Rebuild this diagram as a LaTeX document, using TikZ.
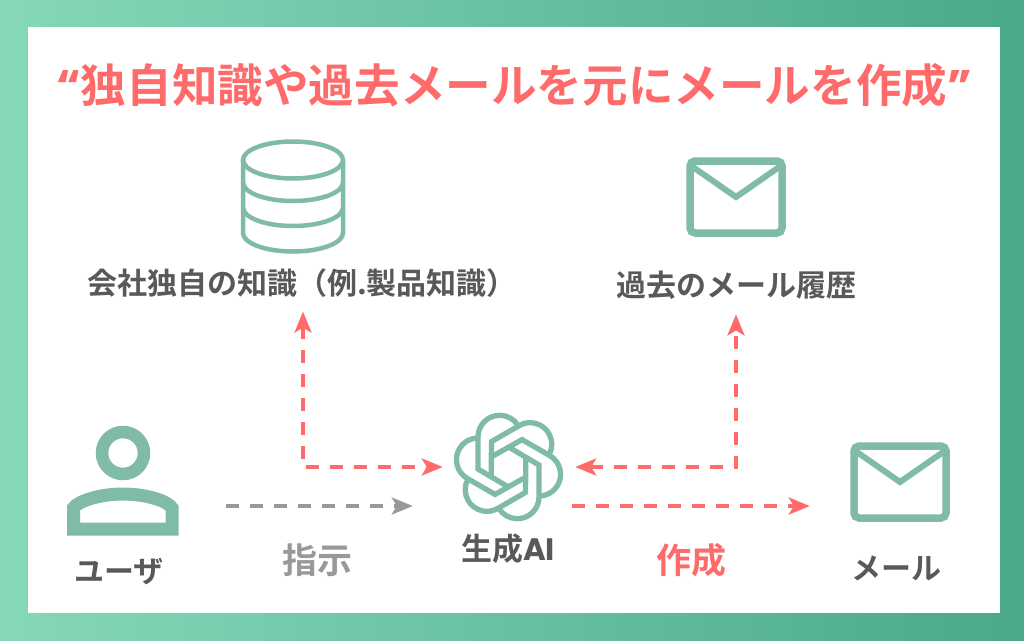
\documentclass[tikz,border=0pt]{standalone}
\usepackage{fontspec}
\setmainfont{Noto Sans CJK JP}[BoldFont={* Bold}]
\newfontfamily\latinfont{Poppins}[BoldFont={* Bold}]
\usetikzlibrary{arrows.meta,calc}
\definecolor{iconGreen}{HTML}{7FBBA6}
\definecolor{flowRed}{HTML}{FF6B6B}
\definecolor{flowGray}{HTML}{999999}
\definecolor{labelGray}{HTML}{595959}
\definecolor{bgLeft}{HTML}{85D8B8}
\definecolor{bgRight}{HTML}{49A98A}
\tikzset{
	flowtip/.tip={Stealth[length=21pt,width=17pt,inset=5pt]},
	iconbox/.style={minimum width=#1, minimum height=40pt, inner sep=0pt},
	namelabel/.style={font=\fontsize{30}{30}\selectfont\bfseries, text=labelGray, inner sep=0pt},
	flowlabel/.style={font=\fontsize{35}{35}\selectfont\bfseries, inner sep=0pt},
	redflow/.style={line width=3.5pt, color=flowRed, dash pattern=on 13pt off 11pt, -flowtip},
	grayflow/.style={line width=3.5pt, color=flowGray, dash pattern=on 13pt off 11pt, -flowtip}
}
\def\mailicon(#1,#2){\draw[line width=7.5pt, color=iconGreen, rounded corners=5pt] (#1-46, #2-36) rectangle (#1+46, #2+36);
	\draw[line width=6pt, color=iconGreen] (#1-46, #2-32) -- (#1, #2) -- (#1+46, #2-32);}

\begin{document}
\begin{tikzpicture}[x=1pt, y=-1pt]
	\useasboundingbox (0, 0) rectangle (1024, 640);
	\shade[left color=bgLeft, right color=bgRight] (0, 0) rectangle (1024, 640);
	\fill[white] (28, 27) rectangle (1000, 613);

	\node[font=\fontsize{45.6}{46}\selectfont\bfseries, text=flowRed, inner sep=0pt] (title) at (514, 85.5) {{\latinfont “}独自知識や過去メールを元にメールを作成{\latinfont ”}};

	% database
	\draw[line width=4.5pt, color=iconGreen] (293, 160) ellipse (50 and 18.5);
	\draw[line width=4.5pt, color=iconGreen] (243, 160) -- (243, 233) arc (180:0:50 and 18.5) -- (343, 160);
	\draw[line width=4.5pt, color=iconGreen] (243, 182.5) arc (180:0:50 and 18.5);
	\draw[line width=4.5pt, color=iconGreen] (243, 207.5) arc (180:0:50 and 18.5);

	\mailicon(736, 197)
	\mailicon(900, 482)

	% user
	\draw[line width=12.5pt, color=iconGreen] (123, 453) circle (21);
	\draw[line width=13pt, color=iconGreen] (73.5, 529) -- (73.5, 508) .. controls (78, 501) and (100, 494) .. (123, 494) .. controls (146, 494) and (168, 501) .. (172, 508) -- (172, 529) -- cycle;

	% logo
	\begin{scope}[shift={(508.5, 467)}, yscale=-1]
		\foreach \a in {0,60,...,300}
			\draw[rotate=\a, line width=5.3pt, color=iconGreen] (-0.1, -20) -- (-30.5, -2) -- (-30.5, 30) arc (180:33:21.7);
	\end{scope}

	\node[namelabel] (knowledgeLabel) at (302, 283) {会社独自の知識（例.製品知識）};
	\node[namelabel] (historyLabel) at (736, 285) {過去のメール履歴};
	\node[namelabel] (userLabel) at (119, 572) {ユーザ};
	\node[namelabel, font=\fontsize{31}{31}\selectfont\bfseries] (aiLabel) at (508, 549) {生成{\latinfont AI}};
	\node[namelabel] (mailLabel) at (896, 568) {メール};
	\node[flowlabel, text=flowGray] (orderLabel) at (317, 560) {指示};
	\node[flowlabel, text=flowRed] (makeLabel) at (691, 560) {作成};

	\node[iconbox=206pt] (userIcon) at (123, 506) {};
	\node[iconbox=132pt] (aiIcon) at (509, 467) {};
	\node[iconbox=180pt] (mailIcon) at (900, 506) {};

	\draw[grayflow, shorten >=30pt] (userIcon.east) -- (aiIcon.west |- userIcon.east);
	\draw[redflow, flowtip-flowtip, shorten <=14pt] ([xshift=1pt]knowledgeLabel.south) |- (aiIcon.west);
	\draw[redflow, flowtip-flowtip, shorten >=15pt] (aiIcon.east) -| (historyLabel.south);
	\draw[redflow, shorten <=-3pt] (aiIcon.east |- mailIcon.west) -- (mailIcon.west);
\end{tikzpicture}
\end{document}
